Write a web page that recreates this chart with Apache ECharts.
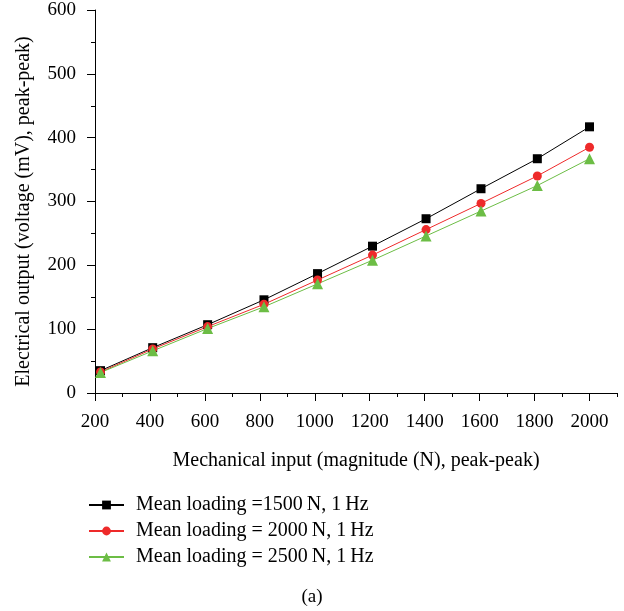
<!DOCTYPE html>
<html>
<head>
<meta charset="utf-8">
<script src="https://cdn.jsdelivr.net/npm/echarts@6/dist/echarts.min.js"></script>
<style>
  html, body { margin: 0; padding: 0; background: #fff; }
  #chart { width: 624px; height: 611px; }
</style>
</head>
<body>
<div id="chart"></div>
<script>
// mechanical input magnitude (N), peak-peak
const inputN = [220, 410, 610, 815, 1010, 1210, 1405, 1605, 1810, 2000]
// electrical output (mV), peak-peak
const load1500 = [35, 71, 107, 146, 187, 230, 273, 320, 367, 417]
const load2000 = [33, 69, 104, 139, 177, 216, 256, 297, 340, 385]
const load2500 = [32, 66, 101, 135, 171, 208, 246, 285, 325, 367]
const seriesNames = [
  'Mean loading =1500\u2009N, 1\u2009Hz',
  'Mean loading = 2000\u2009N, 1\u2009Hz',
  'Mean loading = 2500\u2009N, 1\u2009Hz'
]
const xMajorTicks = [200, 400, 600, 800, 1000, 1200, 1400, 1600, 1800, 2000]

const font = 'Liberation Serif'
const pairs = arr => inputN.map((x, i) => [x, arr[i]])

const chart = echarts.init(document.getElementById('chart'))

const option = {
  animation: false,
  textStyle: { fontFamily: font, color: '#000' },
  title: {
    text: '(a)',
    left: 'center',
    top: 588,
    padding: 0,
    textStyle: { fontFamily: font, fontSize: 19, fontWeight: 'normal', color: '#000' }
  },
  legend: {
    orient: 'vertical',
    left: 88,
    top: 495,
    padding: 0,
    itemWidth: 35,
    itemHeight: 11,
    itemGap: 6,
    textStyle: { fontFamily: font, fontSize: 20, color: '#000', padding: [0, 0, 0, 7] },
    data: seriesNames
  },
  grid: { left: 95, right: 7, top: 10, bottom: 218, containLabel: false },
  xAxis: [
    {
      type: 'value',
      min: 200,
      max: 2100,
      interval: 100,
      name: 'Mechanical input (magnitude (N), peak-peak)',
      nameLocation: 'middle',
      nameGap: 58,
      nameTextStyle: { fontFamily: font, fontSize: 20, color: '#000' },
      axisLine: { show: true, lineStyle: { color: '#000', width: 1 } },
      axisTick: { show: true, length: 4, lineStyle: { color: '#000' } },
      axisLabel: {
        customValues: xMajorTicks,
        formatter: v => String(v),
        margin: 20,
        fontFamily: font,
        fontSize: 19,
        color: '#000'
      },
      splitLine: { show: false }
    },
    {
      type: 'value',
      position: 'bottom',
      min: 200,
      max: 2100,
      interval: 200,
      axisLine: { show: false },
      axisTick: { show: true, length: 8, customValues: xMajorTicks, lineStyle: { color: '#000' } },
      axisLabel: { show: false },
      splitLine: { show: false }
    }
  ],
  yAxis: {
    type: 'value',
    min: 0,
    max: 600,
    interval: 100,
    name: 'Electrical output (voltage (mV), peak-peak)',
    nameLocation: 'middle',
    nameGap: 61,
    nameTextStyle: { fontFamily: font, fontSize: 20, color: '#000', padding: [0, 20, 0, 0] },
    axisLine: { show: true, lineStyle: { color: '#000', width: 1 } },
    axisTick: { show: true, length: 8, lineStyle: { color: '#000' } },
    minorTick: { show: true, splitNumber: 2, length: 4, lineStyle: { color: '#000' } },
    axisLabel: { margin: 19, fontFamily: font, fontSize: 19, color: '#000' },
    splitLine: { show: false }
  },
  series: [
    {
      name: seriesNames[0],
      type: 'line',
      data: pairs(load1500),
      symbol: 'rect',
      symbolSize: 9,
      itemStyle: { color: '#000' },
      lineStyle: { color: '#000', width: 1 }
    },
    {
      name: seriesNames[1],
      type: 'line',
      data: pairs(load2000),
      symbol: 'circle',
      symbolSize: 9,
      itemStyle: { color: '#ee2a2a' },
      lineStyle: { color: '#ee2a2a', width: 1 }
    },
    {
      name: seriesNames[2],
      type: 'line',
      data: pairs(load2500),
      symbol: 'triangle',
      symbolSize: 11,
      itemStyle: { color: '#6cbd45' },
      lineStyle: { color: '#6cbd45', width: 1 }
    }
  ]
}

chart.setOption(option)
</script>
</body>
</html>
